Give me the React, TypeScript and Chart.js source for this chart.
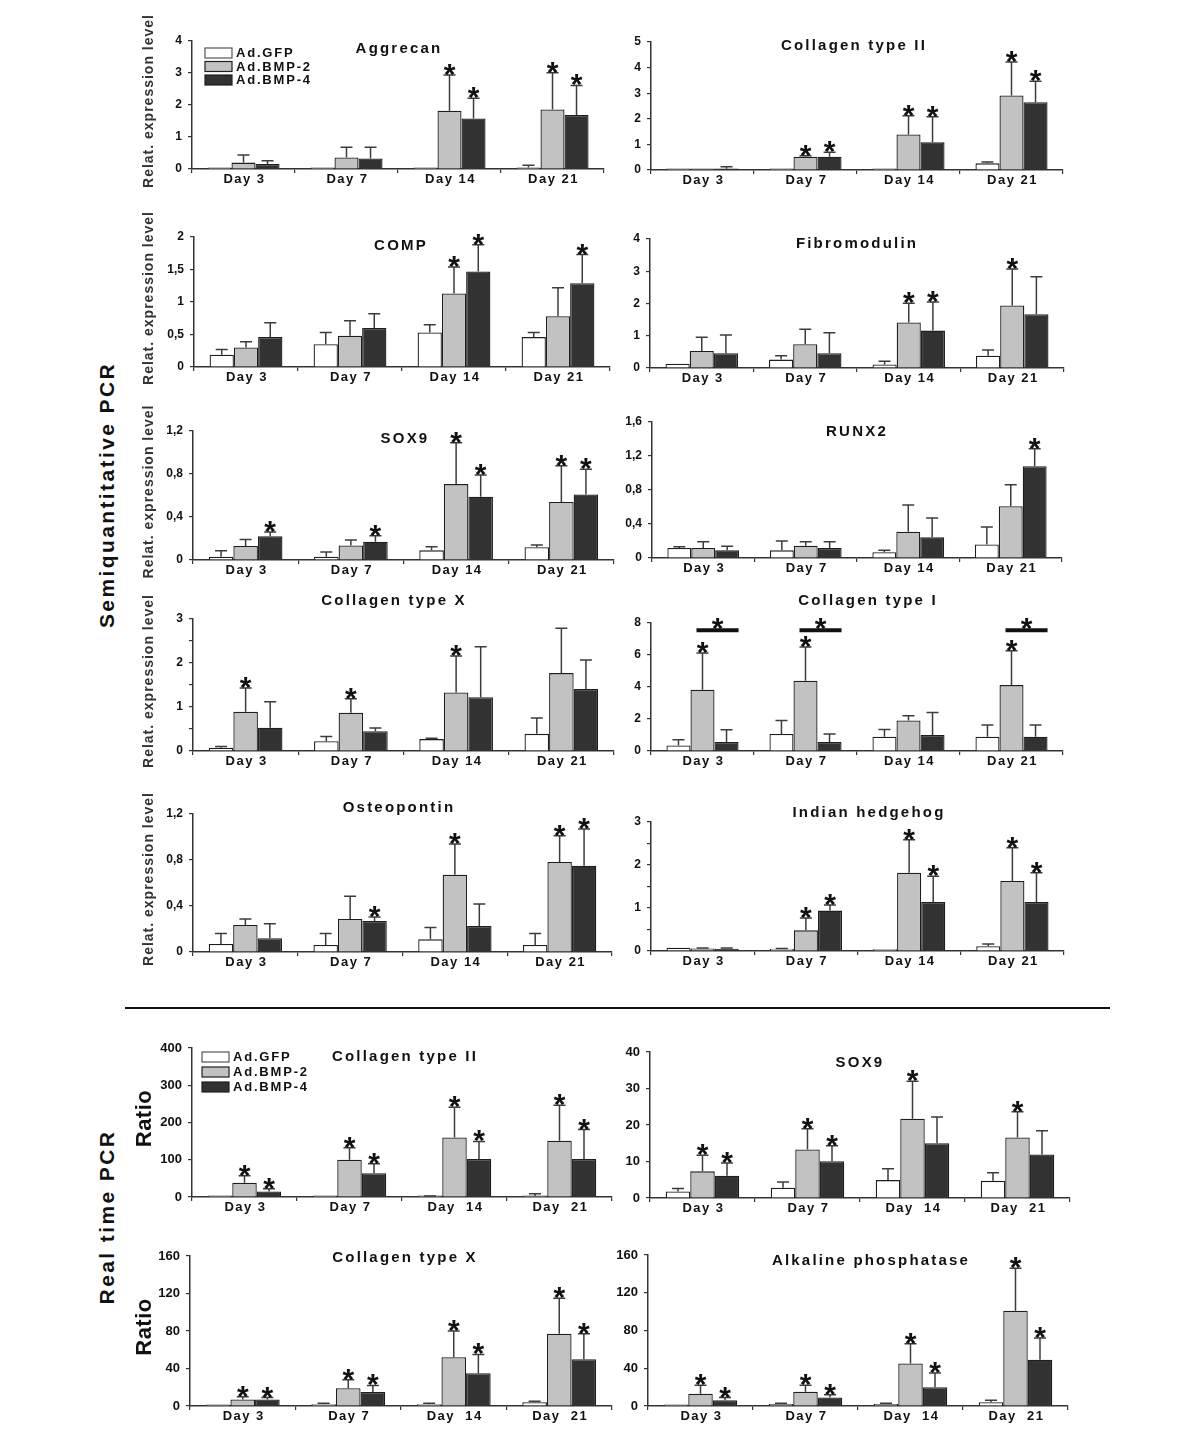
import React, { useEffect, useRef } from "react";
import { Chart, registerables } from "chart.js";
Chart.register(...registerables);

const FONT = "'Liberation Sans', Arial, Helvetica, sans-serif";

const days = ["Day 3", "Day 7", "Day 14", "Day 21"];
const daysRT = ["Day 3", "Day 7", "Day  14", "Day  21"];
const groups = ["Ad.GFP", "Ad.BMP-2", "Ad.BMP-4"];

// rows: Ad.GFP, Ad.BMP-2, Ad.BMP-4 ; columns: Day 3, 7, 14, 21 ; upper = top of error bar
const aggrecanMean = [[0.03, 0.03, 0.03, 0.05], [0.2, 0.36, 1.82, 1.86], [0.16, 0.33, 1.58, 1.69]];
const aggrecanUpper = [[0, 0, 0, 0.12], [0.44, 0.68, 2.94, 3.01], [0.26, 0.68, 2.21, 2.61]];
const aggrecanStars = [[0, 0, 0, 0], [0, 0, 1, 1], [0, 0, 1, 1]];
const aggrecanTicks = [0, 1, 2, 3, 4];

const col2Mean = [[0.03, 0.03, 0.04, 0.26], [0.03, 0.52, 1.39, 2.91], [0.05, 0.52, 1.08, 2.65]];
const col2Upper = [[0, 0, 0, 0.31], [0, 0.56, 2.12, 4.22], [0.13, 0.69, 2.08, 3.47]];
const col2Stars = [[0, 0, 0, 0], [0, 1, 1, 1], [0, 1, 1, 1]];
const col2Ticks = [0, 1, 2, 3, 4, 5];

const compMean = [[0.19, 0.35, 0.53, 0.46], [0.3, 0.48, 1.13, 0.78], [0.46, 0.6, 1.47, 1.29]];
const compUpper = [[0.27, 0.53, 0.65, 0.53], [0.39, 0.71, 1.54, 1.22], [0.68, 0.82, 1.88, 1.73]];
const compStars = [[0, 0, 0, 0], [0, 0, 1, 0], [0, 0, 1, 1]];
const compTicks = [0, 0.5, 1, 1.5, 2];

const fibroMean = [[0.13, 0.26, 0.11, 0.38], [0.53, 0.74, 1.41, 1.94], [0.46, 0.46, 1.16, 1.67]];
const fibroUpper = [[0, 0.38, 0.21, 0.56], [0.95, 1.2, 2.01, 3.07], [1.02, 1.09, 2.05, 2.83]];
const fibroStars = [[0, 0, 0, 0], [0, 0, 1, 1], [0, 0, 1, 0]];
const fibroTicks = [0, 1, 2, 3, 4];

const sox9Mean = [[0.03, 0.03, 0.09, 0.118], [0.13, 0.136, 0.706, 0.54], [0.22, 0.17, 0.588, 0.61]];
const sox9Upper = [[0.087, 0.074, 0.124, 0.139], [0.19, 0.186, 1.09, 0.876], [0.26, 0.226, 0.79, 0.845]];
const sox9Stars = [[0, 0, 0, 0], [0, 0, 1, 1], [1, 1, 1, 1]];
const sox9Ticks = [0, 0.4, 0.8, 1.2];

const runx2Mean = [[0.118, 0.09, 0.067, 0.16], [0.118, 0.145, 0.31, 0.608], [0.09, 0.118, 0.243, 1.08]];
const runx2Upper = [[0.133, 0.2, 0.09, 0.365], [0.19, 0.19, 0.624, 0.863], [0.137, 0.19, 0.47, 1.286]];
const runx2Stars = [[0, 0, 0, 0], [0, 0, 0, 0], [0, 0, 0, 1]];
const runx2Ticks = [0, 0.4, 0.8, 1.2, 1.6];

const col10Mean = [[0.076, 0.22, 0.27, 0.39], [0.89, 0.87, 1.33, 1.77], [0.53, 0.45, 1.22, 1.41]];
const col10Upper = [[0.1, 0.33, 0.29, 0.75], [1.43, 1.19, 2.16, 2.79], [1.12, 0.52, 2.37, 2.07]];
const col10Stars = [[0, 0, 0, 0], [1, 1, 1, 0], [0, 0, 0, 0]];
const col10Ticks = [0, 1, 2, 3];

const col1Mean = [[0.35, 1.06, 0.89, 0.89], [3.83, 4.39, 1.91, 4.12], [0.56, 0.56, 1.0, 0.89]];
const col1Upper = [[0.71, 1.91, 1.35, 1.62], [6.13, 6.5, 2.2, 6.26], [1.33, 1.06, 2.4, 1.62]];
const col1Stars = [[0, 0, 0, 0], [1, 1, 0, 1], [0, 0, 0, 0]];
const col1Bracket = [7.55, 7.55, 0, 7.55];
const col1Ticks = [0, 2, 4, 6, 8];

const osteoMean = [[0.07, 0.061, 0.11, 0.061], [0.235, 0.287, 0.672, 0.783], [0.12, 0.27, 0.226, 0.75]];
const osteoUpper = [[0.16, 0.16, 0.214, 0.16], [0.287, 0.484, 0.94, 1.01], [0.246, 0.304, 0.417, 1.07]];
const osteoStars = [[0, 0, 0, 0], [0, 0, 1, 1], [0, 1, 0, 1]];
const osteoTicks = [0, 0.4, 0.8, 1.2];

const ihhMean = [[0.077, 0.055, 0.04, 0.11], [0.06, 0.48, 1.82, 1.63], [0.05, 0.94, 1.14, 1.14]];
const ihhUpper = [[0, 0.06, 0, 0.16], [0.07, 0.77, 2.59, 2.4], [0.07, 1.07, 1.74, 1.82]];
const ihhStars = [[0, 0, 0, 0], [0, 1, 1, 1], [0, 1, 1, 1]];
const ihhTicks = [0, 1, 2, 3];

const rtCol2Mean = [[0, 1, 2, 3], [38, 100, 160, 151], [15, 64, 102, 102]];
const rtCol2Upper = [[0, 0, 3, 9], [57, 132, 241, 246], [22, 89, 149, 181]];
const rtCol2Stars = [[0, 0, 0, 0], [1, 1, 1, 1], [1, 1, 1, 1]];
const rtCol2Ticks = [0, 100, 200, 300, 400];

const rtSox9Mean = [[1.8, 2.8, 4.9, 4.7], [7.3, 13.3, 21.7, 16.6], [6.1, 10.1, 15, 11.9]];
const rtSox9Upper = [[2.6, 4.4, 8.0, 6.9], [11.7, 19, 32, 23.6], [9.6, 14.3, 22.2, 18.4]];
const rtSox9Stars = [[0, 0, 0, 0], [1, 1, 1, 1], [1, 1, 0, 0]];
const rtSox9Ticks = [0, 10, 20, 30, 40];

const rtCol10Mean = [[1, 2, 2, 4], [7, 19, 52, 77], [7, 15, 35, 50]];
const rtCol10Upper = [[0, 3, 3, 5], [10, 28, 80, 115], [9, 22, 55, 77]];
const rtCol10Stars = [[0, 0, 0, 0], [1, 1, 1, 1], [1, 1, 1, 1]];
const rtCol10Ticks = [0, 40, 80, 120, 160];

const alpMean = [[1, 2, 2, 4], [13, 15, 45, 101], [6, 9, 20, 49]];
const alpUpper = [[0, 3, 3, 6], [22, 22, 66, 146], [9, 12, 35, 72]];
const alpStars = [[0, 0, 0, 0], [1, 1, 1, 1], [1, 1, 1, 1]];
const alpTicks = [0, 40, 80, 120, 160];

type PanelDef = {
  title: string;
  labels: string[];
  mean: number[][];
  upper: number[][];
  stars: number[][];
  ticks: number[];
  step: number;
  bracket?: number[];
  legend?: boolean;
  yTitle?: string;
};

const panels: PanelDef[] = [
  { title: "Aggrecan", labels: days, mean: aggrecanMean, upper: aggrecanUpper, stars: aggrecanStars, ticks: aggrecanTicks, step: 1, legend: true, yTitle: "Relat. expression level" },
  { title: "Collagen type II", labels: days, mean: col2Mean, upper: col2Upper, stars: col2Stars, ticks: col2Ticks, step: 1 },
  { title: "COMP", labels: days, mean: compMean, upper: compUpper, stars: compStars, ticks: compTicks, step: 0.5, yTitle: "Relat. expression level" },
  { title: "Fibromodulin", labels: days, mean: fibroMean, upper: fibroUpper, stars: fibroStars, ticks: fibroTicks, step: 1 },
  { title: "SOX9", labels: days, mean: sox9Mean, upper: sox9Upper, stars: sox9Stars, ticks: sox9Ticks, step: 0.4, yTitle: "Relat. expression level" },
  { title: "RUNX2", labels: days, mean: runx2Mean, upper: runx2Upper, stars: runx2Stars, ticks: runx2Ticks, step: 0.4 },
  { title: "Collagen type X", labels: days, mean: col10Mean, upper: col10Upper, stars: col10Stars, ticks: col10Ticks, step: 0.5, yTitle: "Relat. expression level" },
  { title: "Collagen type I", labels: days, mean: col1Mean, upper: col1Upper, stars: col1Stars, ticks: col1Ticks, step: 2, bracket: col1Bracket },
  { title: "Osteopontin", labels: days, mean: osteoMean, upper: osteoUpper, stars: osteoStars, ticks: osteoTicks, step: 0.4, yTitle: "Relat. expression level" },
  { title: "Indian hedgehog", labels: days, mean: ihhMean, upper: ihhUpper, stars: ihhStars, ticks: ihhTicks, step: 0.5 },
  { title: "Collagen type II", labels: daysRT, mean: rtCol2Mean, upper: rtCol2Upper, stars: rtCol2Stars, ticks: rtCol2Ticks, step: 100, legend: true, yTitle: "Ratio" },
  { title: "SOX9", labels: daysRT, mean: rtSox9Mean, upper: rtSox9Upper, stars: rtSox9Stars, ticks: rtSox9Ticks, step: 10 },
  { title: "Collagen type X", labels: daysRT, mean: rtCol10Mean, upper: rtCol10Upper, stars: rtCol10Stars, ticks: rtCol10Ticks, step: 40, yTitle: "Ratio" },
  { title: "Alkaline phosphatase", labels: daysRT, mean: alpMean, upper: alpUpper, stars: alpStars, ticks: alpTicks, step: 40 },
];

// layout (page pixels): axis x, plot right, top tick y, zero y, title centre, legend position
type Layout = { ax: number; rx: number; ty: number; zy: number; tx: number; tyT: number; lgX?: number; lgY?: number; lgGap?: number; yTx?: number; fs: number };
const layouts: Layout[] = [
  { ax: 192, rx: 604, ty: 41, zy: 169, tx: 398, tyT: 49, lgX: 205, lgY: 53, lgGap: 13.5, yTx: 149, fs: 12 },
  { ax: 651, rx: 1063, ty: 42, zy: 170, tx: 853, tyT: 46, fs: 12 },
  { ax: 194, rx: 610, ty: 237, zy: 367, tx: 400, tyT: 246, yTx: 149, fs: 12 },
  { ax: 650, rx: 1064, ty: 239, zy: 368, tx: 856, tyT: 244, fs: 12 },
  { ax: 193, rx: 614, ty: 431, zy: 560, tx: 404, tyT: 439, yTx: 149, fs: 12 },
  { ax: 652, rx: 1062, ty: 422, zy: 558, tx: 856, tyT: 432, fs: 12 },
  { ax: 193, rx: 614, ty: 619, zy: 751, tx: 393, tyT: 601, yTx: 149, fs: 12 },
  { ax: 651, rx: 1063, ty: 623, zy: 751, tx: 867, tyT: 601, fs: 12 },
  { ax: 193, rx: 612, ty: 814, zy: 952, tx: 398, tyT: 808, yTx: 149, fs: 12 },
  { ax: 651, rx: 1064, ty: 822, zy: 951, tx: 868, tyT: 813, fs: 12 },
  { ax: 192, rx: 612, ty: 1048, zy: 1197, tx: 404, tyT: 1057, lgX: 202, lgY: 1057, lgGap: 15, yTx: 145, fs: 13 },
  { ax: 650, rx: 1070, ty: 1052, zy: 1198, tx: 859, tyT: 1063, fs: 13 },
  { ax: 190, rx: 612, ty: 1256, zy: 1406, tx: 404, tyT: 1258, yTx: 145, fs: 13 },
  { ax: 648, rx: 1068, ty: 1255, zy: 1406, tx: 870, tyT: 1261, fs: 13 },
];

const FILLS = ["#ffffff", "#c2c2c2", "#323232"];
const EDGE = "#1e1e1e";
const PAD_TOP = 40;
const X_H = 26;
const PAD_R = 8;

function fmt(v: number) {
  const r = Math.round(v * 100) / 100;
  return String(r).replace(".", ",");
}

function Panel({ p, l }: { p: PanelDef; l: Layout }) {
  const ref = useRef<HTMLCanvasElement>(null);
  const L = l.yTx !== undefined ? l.ax - 130 : l.ax - 612;
  const cLeft = l.ax - L;
  const cTop = l.ty - PAD_TOP;
  const w = l.rx - cLeft + PAD_R;
  const h = l.zy - cTop + X_H;

  useEffect(() => {
    const decor = {
      id: "decor",
      afterDatasetsDraw(chart: any) {
        const ctx = chart.ctx;
        const ys = chart.scales.y;
        ctx.save();
        for (let d = 0; d < 3; d++) {
          const meta = chart.getDatasetMeta(d);
          meta.data.forEach((el: any, i: number) => {
            const v = p.mean[d][i];
            const up = p.upper[d][i];
            if (up > v) {
              const y0 = ys.getPixelForValue(v);
              const y1 = ys.getPixelForValue(up);
              ctx.strokeStyle = "#3c3c3c";
              ctx.lineWidth = 1.5;
              ctx.beginPath();
              ctx.moveTo(el.x, y0);
              ctx.lineTo(el.x, y1);
              ctx.moveTo(el.x - 6, y1);
              ctx.lineTo(el.x + 6, y1);
              ctx.stroke();
            }
            if (p.stars[d][i]) {
              const yc = ys.getPixelForValue(Math.max(up, v));
              ctx.fillStyle = "#111";
              ctx.font = `bold 30px ${FONT}`;
              ctx.textAlign = "center";
              ctx.textBaseline = "alphabetic";
              ctx.fillText("*", el.x, yc + 9);
            }
          });
        }
        if (p.bracket) {
          const mg = chart.getDatasetMeta(1);
          const mb = chart.getDatasetMeta(2);
          p.bracket.forEach((bv, i) => {
            if (!bv) return;
            const g = mg.data[i];
            const b = mb.data[i];
            const y = ys.getPixelForValue(bv);
            ctx.strokeStyle = "#111";
            ctx.lineWidth = 4;
            ctx.beginPath();
            ctx.moveTo(g.x - 6, y);
            ctx.lineTo(b.x + b.width / 2, y);
            ctx.stroke();
            ctx.fillStyle = "#111";
            ctx.font = `bold 30px ${FONT}`;
            ctx.textAlign = "center";
            ctx.fillText("*", (g.x - 6 + b.x + b.width / 2) / 2, y + 8);
          });
        }
        ctx.restore();
      },
      afterDraw(chart: any) {
        const ctx = chart.ctx;
        const xs = chart.scales.x;
        const area = chart.chartArea;
        ctx.save();
        // day labels
        ctx.fillStyle = "#111";
        ctx.font = `bold 13px ${FONT}`;
        (ctx as any).letterSpacing = "1.5px";
        ctx.textAlign = "center";
        ctx.textBaseline = "alphabetic";
        p.labels.forEach((lab, i) => {
          ctx.fillText(lab, xs.getPixelForValue(i) + 1, area.bottom + 14);
        });
        // title
        ctx.font = `bold 15px ${FONT}`;
        (ctx as any).letterSpacing = "2.2px";
        ctx.textBaseline = "middle";
        ctx.fillText(p.title, l.tx - cLeft + 1, l.tyT - cTop);
        // y title
        if (p.yTitle && l.yTx !== undefined) {
          ctx.save();
          ctx.translate(l.yTx - cLeft, (area.top + area.bottom) / 2 - 4);
          ctx.rotate(-Math.PI / 2);
          if (p.yTitle === "Ratio") {
            ctx.font = `bold 22px ${FONT}`;
            (ctx as any).letterSpacing = "0.5px";
            ctx.fillStyle = "#111";
          } else {
            ctx.font = `bold 14px ${FONT}`;
            (ctx as any).letterSpacing = "1px";
            ctx.fillStyle = "#333";
          }
          ctx.textAlign = "center";
          ctx.textBaseline = "middle";
          ctx.fillText(p.yTitle, 0, 0);
          ctx.restore();
        }
        // legend
        if (p.legend && l.lgX !== undefined && l.lgY !== undefined) {
          const gap = l.lgGap || 14;
          groups.forEach((g, i) => {
            const cx = l.lgX! - cLeft;
            const cy = l.lgY! - cTop + i * gap;
            ctx.fillStyle = FILLS[i];
            ctx.fillRect(cx, cy - 5, 27, 10);
            ctx.strokeStyle = i === 0 ? "#555" : EDGE;
            ctx.lineWidth = 1.2;
            ctx.strokeRect(cx, cy - 5, 27, 10);
            ctx.fillStyle = "#111";
            ctx.font = `bold 13px ${FONT}`;
            (ctx as any).letterSpacing = "1.8px";
            ctx.textAlign = "left";
            ctx.textBaseline = "middle";
            ctx.fillText(g, cx + 31, cy + 0.5);
          });
        }
        ctx.restore();
      },
    };

    const chart = new Chart(ref.current as HTMLCanvasElement, {
      type: "bar",
      data: {
        labels: p.labels,
        datasets: [0, 1, 2].map((d) => ({
          label: groups[d],
          data: p.mean[d],
          backgroundColor: FILLS[d],
          borderColor: EDGE,
          borderWidth: 1.3,
          barPercentage: 1,
          categoryPercentage: 0.7,
          minBarLength: 1.5,
        })),
      },
      options: {
        responsive: false,
        maintainAspectRatio: false,
        animation: false,
        devicePixelRatio: 1,
        layout: { padding: { top: PAD_TOP, right: PAD_R, left: 0, bottom: 0 } },
        plugins: { legend: { display: false }, tooltip: { enabled: false } },
        scales: {
          x: {
            type: "category",
            offset: true,
            grid: { display: true, drawOnChartArea: false, drawTicks: true, tickLength: 4, color: "#333", lineWidth: 1.2, offset: true },
            border: { display: true, color: "#333", width: 1.5 },
            ticks: { display: false },
            afterFit: (s: any) => {
              s.height = X_H;
            },
          },
          y: {
            min: 0,
            max: p.ticks[p.ticks.length - 1],
            grid: { display: true, drawOnChartArea: false, drawTicks: true, tickLength: 4, color: "#333", lineWidth: 1.2 },
            border: { display: true, color: "#333", width: 1.5 },
            ticks: {
              stepSize: p.step,
              autoSkip: false,
              padding: 6,
              color: "#111",
              font: { family: FONT, weight: "bold", size: l.fs },
              callback: (v: any) => {
                const n = Number(v);
                return p.ticks.some((t) => Math.abs(t - n) < 1e-6) ? fmt(n) : "";
              },
            },
            afterFit: (s: any) => {
              s.width = L;
            },
          },
        },
      } as any,
      plugins: [decor],
    });
    return () => chart.destroy();
  }, []);

  return (
    <canvas
      ref={ref}
      width={w}
      height={h}
      style={{ position: "absolute", left: cLeft, top: cTop, width: w, height: h }}
    />
  );
}

export default function App() {
  return (
    <div
      style={{
        position: "absolute",
        left: 0,
        top: 0,
        width: 1200,
        height: 1434,
        background: "#fff",
        overflow: "hidden",
        fontFamily: FONT,
      }}
    >
      {panels.map((p, i) => (
        <Panel key={i} p={p} l={layouts[i]} />
      ))}
      <div
        style={{
          position: "absolute",
          left: 107,
          top: 495,
          transform: "translate(-50%, -50%) rotate(-90deg)",
          whiteSpace: "nowrap",
          fontWeight: "bold",
          fontSize: 21,
          letterSpacing: "2.4px",
          color: "#111",
        }}
      >
        Semiquantitative PCR
      </div>
      <div
        style={{
          position: "absolute",
          left: 107,
          top: 1217,
          transform: "translate(-50%, -50%) rotate(-90deg)",
          whiteSpace: "nowrap",
          fontWeight: "bold",
          fontSize: 21,
          letterSpacing: "2.4px",
          color: "#111",
        }}
      >
        Real time PCR
      </div>
      <div style={{ position: "absolute", left: 125, top: 1007, width: 985, height: 2, background: "#111" }} />
    </div>
  );
}
